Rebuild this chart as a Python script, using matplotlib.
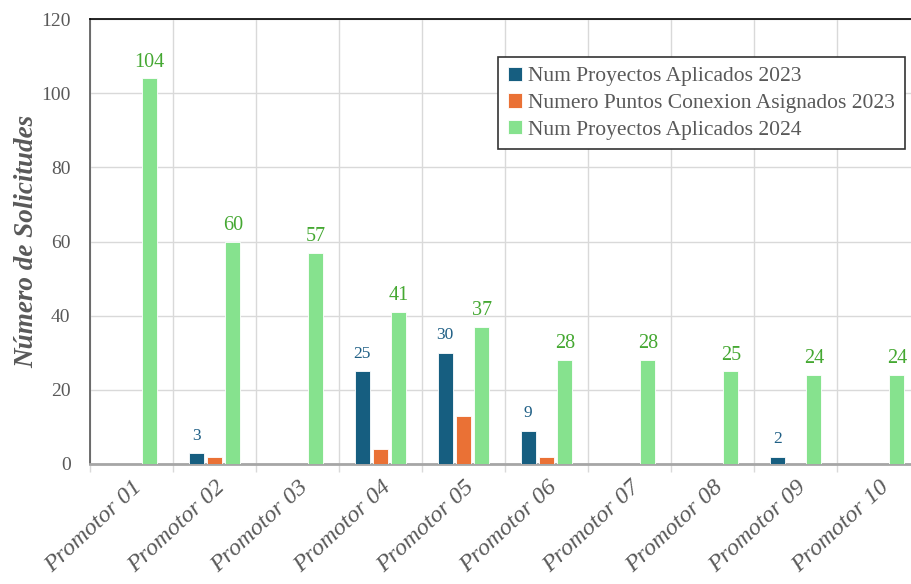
import numpy as np
import matplotlib
matplotlib.use('Agg')
import matplotlib.pyplot as plt

promotores = ['Promotor 01', 'Promotor 02', 'Promotor 03', 'Promotor 04', 'Promotor 05',
              'Promotor 06', 'Promotor 07', 'Promotor 08', 'Promotor 09', 'Promotor 10']
proy_2023 = [0, 3, 0, 25, 30, 9, 0, 0, 2, 0]
puntos_2023 = [0, 2, 0, 4, 13, 2, 0, 0, 0, 0]
proy_2024 = [104, 60, 57, 41, 37, 28, 28, 25, 24, 24]

c_blue = '#165e80'
c_orange = '#ea7135'
c_green = '#86e28e'
c_gray = '#595959'

plt.rcParams['font.family'] = ['Liberation Serif', 'DejaVu Serif']

fig = plt.figure(figsize=(9.11, 5.84), dpi=100)
ax = fig.add_axes([90/911, 120/584, 830/911, 445/584])

x = np.arange(len(promotores))
w = 0.175
ax.bar(x - 0.22, proy_2023, w, color=c_blue, edgecolor='white', linewidth=0.6,
       label='Num Proyectos Aplicados 2023', zorder=3)
ax.bar(x, puntos_2023, w, color=c_orange, edgecolor='white', linewidth=0.6,
       label='Numero Puntos Conexion Asignados 2023', zorder=3)
ax.bar(x + 0.22, proy_2024, w, color=c_green, edgecolor='white', linewidth=0.6,
       label='Num Proyectos Aplicados 2024', zorder=3)

# etiquetas de datos
for xi, v in zip(x, proy_2023):
    if v > 0:
        ax.text(xi - 0.22, v + 2.5, str(v), ha='center', va='bottom', fontsize=12.5, color='#1f5f85')
for xi, v in zip(x, proy_2024):
    ax.text(xi + 0.22, v + 1.8, str(v), ha='center', va='bottom', fontsize=14.5, color='#45a832')

ax.set_xlim(-0.5, len(promotores) - 0.5)
ax.set_ylim(0, 120)
ax.set_yticks(range(0, 121, 20))
ax.tick_params(axis='y', length=0, labelsize=14, labelcolor=c_gray, pad=14)

ax.set_xticks(x)
ax.set_xticklabels(promotores, rotation=43, ha='right', rotation_mode='anchor',
                   fontsize=17.5, style='italic', color=c_gray)
ax.tick_params(axis='x', length=0, pad=9)
ax.set_xticks(np.arange(-0.5, len(promotores)), minor=True)
ax.tick_params(axis='x', which='minor', length=6, color='#d9d9d9', width=1)

ax.grid(axis='y', color='#d9d9d9', linewidth=1, zorder=0)
ax.grid(axis='x', which='minor', color='#d9d9d9', linewidth=1, zorder=0)
ax.grid(axis='x', which='major', visible=False)

ax.spines['top'].set_color('black')
ax.spines['top'].set_linewidth(1.2)
ax.spines['left'].set_color('#555555')
ax.spines['left'].set_linewidth(1.2)
ax.spines['bottom'].set_color('#a6a6a6')
ax.spines['bottom'].set_linewidth(2)
ax.spines['right'].set_visible(False)

ax.set_ylabel('Número de Solicitudes', fontsize=19.5, fontweight='bold', style='italic',
              color=c_gray, labelpad=1)

leg = ax.legend(loc='upper right', fontsize=15.5, frameon=True, fancybox=False,
                handlelength=0.65, handleheight=0.65, handletextpad=0.3, borderpad=0.45,
                labelspacing=0.32, borderaxespad=0, labelcolor=c_gray, framealpha=1)
leg.get_frame().set_edgecolor('#333333')
leg.get_frame().set_linewidth(1.2)
leg.set_bbox_to_anchor((905/911, 1 - 57/584), transform=fig.transFigure)

fig.savefig('out.png', dpi=100)
